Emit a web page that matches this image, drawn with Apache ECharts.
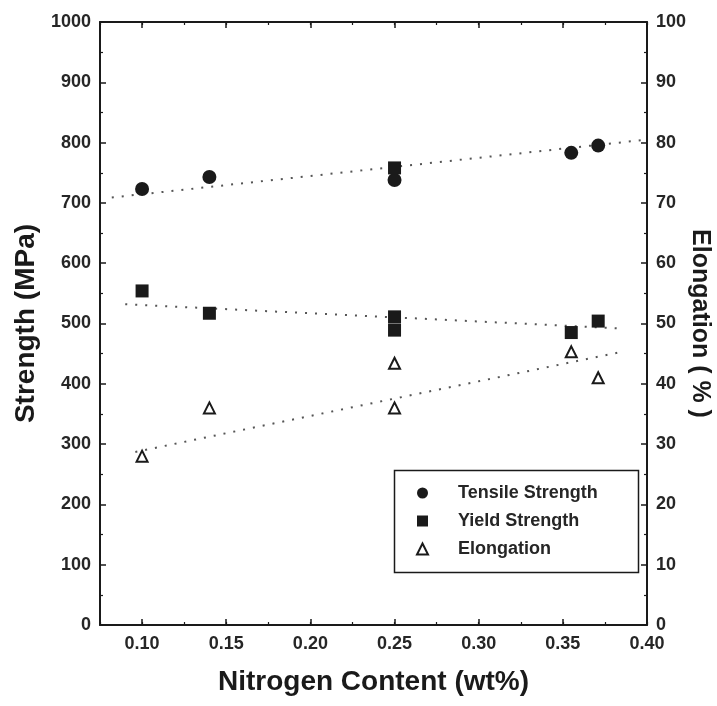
<!DOCTYPE html>
<html>
<head>
<meta charset="utf-8">
<title>Strength and elongation vs nitrogen content</title>
<script src="https://cdn.jsdelivr.net/npm/echarts@6/dist/echarts.min.js"></script>
<style>
  html, body { margin: 0; padding: 0; background: #fff; }
  #chart { width: 717px; height: 706px; }
</style>
</head>
<body>
<div id="chart"></div>
<script>
// measured points: [nitrogen wt%, value]
const tensile = [[0.10, 723], [0.14, 743], [0.25, 738], [0.355, 783], [0.371, 795]];
const yieldPts = [[0.10, 554], [0.14, 517], [0.25, 758], [0.25, 511], [0.25, 489], [0.355, 485], [0.371, 504]];
const elongation = [[0.10, 28], [0.14, 36], [0.25, 43.4], [0.25, 36], [0.355, 45.3], [0.371, 41]];

// dotted fit lines
const tensileFit = [[0.082, 709], [0.40, 805]];
const yieldFit = [[0.09, 532], [0.383, 492]];
const elongationFit = [[0.096, 28.7], [0.385, 45.3]];

const xTicks = [0.10, 0.15, 0.20, 0.25, 0.30, 0.35, 0.40];

const FONT = 'Liberation Sans';
const INK = '#1a1a1a';

const tickLabel = { fontFamily: FONT, fontSize: 18, fontWeight: 'bold', color: '#262626' };
const titleText = { fontFamily: FONT, fontSize: 28, fontWeight: 'bold', color: INK };
const axisLine = { show: true, lineStyle: { color: INK, width: 2 } };

const xBase = (pos, labels) => ({
    type: 'value', position: pos, min: 0.075, max: 0.40,
    axisLine: axisLine,
    axisTick: { show: true, inside: true, length: 6, customValues: xTicks, lineStyle: { color: INK, width: 1.5 } },
    axisLabel: labels
        ? Object.assign({ show: true, margin: 10, customValues: xTicks, formatter: v => v.toFixed(2) }, tickLabel)
        : { show: false },
    splitLine: { show: false }
});

const xMinor = pos => ({
    type: 'value', position: pos, min: 0.075, max: 0.40, interval: 0.025,
    axisLine: { show: false },
    axisTick: { show: true, inside: true, length: 3, lineStyle: { color: INK, width: 1.2 } },
    axisLabel: { show: false },
    splitLine: { show: false }
});

const yBase = (pos, max, interval, name, gap, rot, nameSize) => ({
    type: 'value', position: pos, min: 0, max: max, interval: interval,
    name: name, nameLocation: 'middle', nameGap: gap, nameRotate: rot, nameMoveOverlap: false,
    nameTextStyle: Object.assign({}, titleText, { fontSize: nameSize }),
    axisLine: axisLine,
    axisTick: { show: true, inside: true, length: 6, lineStyle: { color: INK, width: 1.5 } },
    minorTick: { show: true, splitNumber: 2, length: 3, lineStyle: { color: INK, width: 1.2 } },
    axisLabel: Object.assign({ margin: 9, formatter: v => String(v) }, tickLabel),
    splitLine: { show: false }
});

const fitLine = (data, yIdx) => ({
    type: 'line', data: data, yAxisIndex: yIdx, xAxisIndex: 0,
    showSymbol: false, silent: true, z: 1,
    lineStyle: { color: '#555', width: 2, type: [2, 8] }
});

const chart = echarts.init(document.getElementById('chart'));

chart.setOption({
    backgroundColor: '#fff',
    animation: false,
    grid: { left: 100, right: 70, top: 22, bottom: 81, outerBoundsMode: 'none' },
    xAxis: [
        Object.assign(xBase('bottom', true), {
            name: 'Nitrogen Content (wt%)', nameLocation: 'middle', nameGap: 43, nameMoveOverlap: false,
            nameTextStyle: titleText
        }),
        xMinor('bottom'),
        xBase('top', false),
        xMinor('top')
    ],
    yAxis: [
        yBase('left', 1000, 100, 'Strength (MPa)', 60, 90, 28),
        yBase('right', 100, 10, 'Elongation ( % )', 40, -90, 25)
    ],
    legend: {
        orient: 'vertical', left: 411, top: 479,
        itemWidth: 11, itemHeight: 11, itemGap: 10,
        textStyle: { fontFamily: FONT, fontSize: 18, fontWeight: 'bold', color: '#262626', padding: [0, 0, 0, 25] },
        data: ['Tensile Strength', 'Yield Strength', 'Elongation']
    },
    graphic: [{
        type: 'rect', left: 392, top: 468,
        shape: { width: 244, height: 102 },
        style: { fill: 'none', stroke: INK, lineWidth: 1.5 }
    }],
    series: [
        fitLine(tensileFit, 0),
        fitLine(yieldFit, 0),
        fitLine(elongationFit, 1),
        {
            name: 'Tensile Strength', type: 'scatter', data: tensile,
            symbol: 'circle', symbolSize: 14, z: 3,
            itemStyle: { color: INK, opacity: 1 }
        },
        {
            name: 'Yield Strength', type: 'scatter', data: yieldPts,
            symbol: 'rect', symbolSize: 13, z: 3,
            itemStyle: { color: INK, opacity: 1 }
        },
        {
            name: 'Elongation', type: 'scatter', data: elongation, yAxisIndex: 1,
            symbol: 'triangle', symbolSize: 11, z: 3,
            itemStyle: { color: '#fff', borderColor: INK, borderWidth: 2, opacity: 1 }
        }
    ]
});
</script>
</body>
</html>
